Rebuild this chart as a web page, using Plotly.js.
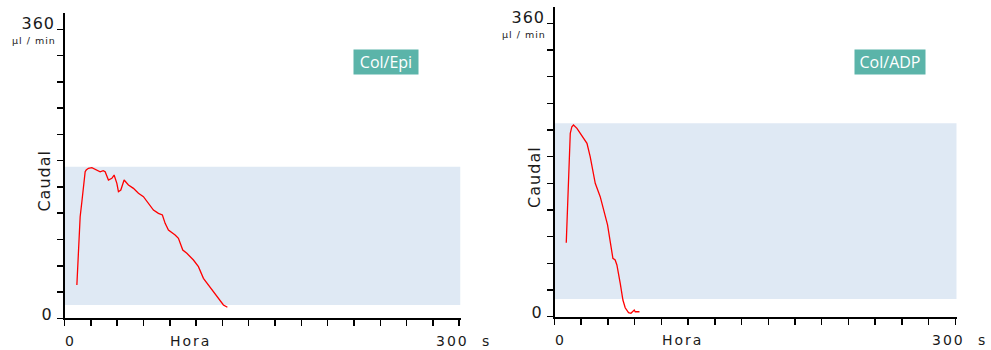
<!DOCTYPE html>
<html>
<head>
<meta charset="utf-8">
<script src="https://cdn.plot.ly/plotly-3.0.1.min.js"></script>
<style>
html, body { margin: 0; padding: 0; background: #ffffff; }
#chart { width: 991px; height: 350px; }
</style>
<style id="spacing"></style>
</head>
<body>
<div id="chart"></div>
<script>
// ---- data ----
const epiTime = [9.4, 10.6, 11.9, 13.2, 14.4, 15.2, 15.7, 16.5, 18.2, 20.8, 24.6, 27.1, 29.4, 30.9, 33.4, 36.0, 37.7, 39.8, 41.0, 42.8, 45.3, 48.6, 52.4, 56.2, 60.0, 63.8, 67.6, 71.4, 74.4, 76.5, 79.0, 84.1, 86.6, 89.9, 93.0, 98.0, 101.8, 105.6, 109.4, 114.5, 118.3, 120.8, 123.8];
const epiFlow = [41.5, 76.7, 126.6, 145.2, 163.9, 178.5, 182.6, 184.7, 186.9, 187.6, 184.7, 182.6, 183.9, 182.6, 172.3, 174.4, 178.5, 168.2, 157.7, 159.8, 172.3, 166.1, 161.9, 155.7, 151.5, 143.3, 134.9, 130.8, 128.7, 118.3, 110.0, 103.8, 99.7, 85.1, 81.0, 72.6, 64.3, 49.8, 41.5, 31.1, 22.8, 16.6, 13.7];

const adpTime = [8.8, 9.7, 10.5, 11.0, 11.8, 13.0, 14.2, 16.8, 19.2, 21.7, 24.3, 26.7, 29.2, 30.5, 34.2, 38.0, 39.7, 41.7, 43.7, 45.4, 46.7, 49.2, 51.2, 52.9, 55.4, 57.2, 58.7, 59.7, 60.4, 63.6];
const adpFlow = [90.8, 139.2, 180.1, 196.4, 225.1, 233.2, 235.3, 231.2, 225.1, 219.0, 212.8, 196.4, 176.0, 163.7, 147.3, 122.7, 112.6, 92.1, 71.7, 69.6, 63.5, 41.0, 20.5, 11.0, 4.9, 4.2, 6.1, 8.2, 6.1, 6.1];

// reference bands (flow range) for each panel
const epiBand = [16.6, 188.8];
const adpBand = [21.7, 237.4];

// panel names and axis labels
const panelNames = ["Col/Epi", "Col/ADP"];
const yTopLabel = "360";
const yUnitLabel = "µl / min";
const yZeroLabel = "0";
const yTitle = "Caudal";
const xZeroLabel = "0";
const xTitle = "Hora";
const xEndLabel = "300";
const xUnitLabel = "s";
const yMax = 360;
const yTickCount = 11;
const xEnd = 300;
const xTickStep = 20;

// ---- build ----
const yTickVals = [];
for (let k = 0; k <= yTickCount; k++) yTickVals.push(yMax * k / yTickCount);

const red = "#ff0000";
const traces = [
  {x: epiTime, y: epiFlow, xaxis: "x", yaxis: "y", mode: "lines", line: {color: red, width: 1.3}, hoverinfo: "skip", showlegend: false},
  {x: adpTime, y: adpFlow, xaxis: "x2", yaxis: "y2", mode: "lines", line: {color: red, width: 1.3}, hoverinfo: "skip", showlegend: false}
];

function xAxis(domain, anchor) {
  return {
    domain: domain, range: [0, 301], anchor: anchor,
    tick0: 0, dtick: xTickStep, ticks: "outside", ticklen: 6, tickwidth: 1.5, tickcolor: "#000",
    showline: true, linewidth: 2, linecolor: "#000",
    showgrid: false, zeroline: false, showticklabels: false, fixedrange: true
  };
}
function yAxis(domain, anchor) {
  return {
    domain: domain, range: [0, 380], anchor: anchor,
    tickmode: "array", tickvals: yTickVals, ticks: "outside", ticklen: 6, tickwidth: 1.5, tickcolor: "#000",
    showline: true, linewidth: 2, linecolor: "#000",
    showgrid: false, zeroline: false, showticklabels: false, fixedrange: true
  };
}

const W = 991, H = 350;
const textColor = "#1a1a1a";
const font = (s) => ({family: "DejaVu Sans", size: s, color: textColor});

const annotations = [];
const spacing = [];
function addAnn(a, ls) { annotations.push(a); spacing.push(ls); }

[["x", "y"], ["x2", "y2"]].forEach(([xr, yr], i) => {
  addAnn({xref: xr, yref: yr, x: 0, y: yMax, text: yTopLabel, showarrow: false, xanchor: "right", yanchor: "middle", xshift: -9, yshift: 6, font: font(16)}, 1);
  addAnn({xref: xr, yref: yr, x: 0, y: yMax, text: yUnitLabel, showarrow: false, xanchor: "right", yanchor: "middle", xshift: -11, yshift: -11, font: font(9.5)}, 1);
  addAnn({xref: xr, yref: yr, x: 0, y: 0, text: yZeroLabel, showarrow: false, xanchor: "right", yanchor: "middle", xshift: -11, yshift: 4, font: font(16)}, 1);
  addAnn({xref: xr, yref: yr, x: 0, y: 171, text: yTitle, showarrow: false, textangle: -90, xanchor: "center", yanchor: "middle", xshift: -20, font: font(16)}, 1);
  addAnn({xref: xr, yref: yr, x: 0, y: 0, text: xZeroLabel, showarrow: false, xanchor: "left", yanchor: "middle", xshift: -1, yshift: -23, font: font(14)}, 2);
  addAnn({xref: xr, yref: yr, x: 96, y: 0, text: xTitle, showarrow: false, xanchor: "center", yanchor: "middle", yshift: -23, font: font(14)}, 2);
  addAnn({xref: xr, yref: yr, x: xEnd, y: 0, text: xEndLabel, showarrow: false, xanchor: "right", yanchor: "middle", xshift: 9, yshift: -23, font: font(14)}, 2);
  addAnn({xref: xr, yref: yr, x: xEnd, y: 0, text: xUnitLabel, showarrow: false, xanchor: "left", yanchor: "middle", xshift: 21, yshift: -23, font: font(14)}, 0);
});

// teal name boxes
const boxCenters = [[386, 62], [890, 62]];
panelNames.forEach((name, i) => {
  addAnn({xref: "paper", yref: "paper", x: boxCenters[i][0] / W, y: (H - boxCenters[i][1]) / H,
    text: name, showarrow: false, xanchor: "center", yanchor: "middle",
    width: i === 0 ? 62 : 68, height: 22, bgcolor: "#5bb4a9",
    font: {family: "Open Sans", size: 16, color: "#ffffff"}}, 0);
});

let css = "";
spacing.forEach((ls, idx) => {
  if (ls) css += `.annotation[data-index="${idx}"] text { letter-spacing: ${ls}px; }\n`;
});
document.getElementById("spacing").textContent = css;

const shapes = [
  {type: "rect", xref: "x", yref: "y", x0: 0, x1: 301, y0: epiBand[0], y1: epiBand[1], fillcolor: "#dfe9f4", line: {width: 0}, layer: "below"},
  {type: "rect", xref: "x2", yref: "y2", x0: 0, x1: 301, y0: adpBand[0], y1: adpBand[1], fillcolor: "#dfe9f4", line: {width: 0}, layer: "below"}
];

const layout = {
  width: W, height: H,
  margin: {l: 0, r: 0, t: 0, b: 0},
  paper_bgcolor: "#ffffff", plot_bgcolor: "rgba(0,0,0,0)",
  showlegend: false,
  xaxis: xAxis([64.5 / W, 460.5 / W], "y"),
  yaxis: yAxis([(H - 318.3) / H, (H - 13.3) / H], "x"),
  xaxis2: xAxis([554.5 / W, 956.7 / W], "y2"),
  yaxis2: yAxis([(H - 316.7) / H, (H - 7.1) / H], "x2"),
  shapes: shapes,
  annotations: annotations
};

Plotly.newPlot("chart", traces, layout, {staticPlot: true, displayModeBar: false});
</script>
</body>
</html>
